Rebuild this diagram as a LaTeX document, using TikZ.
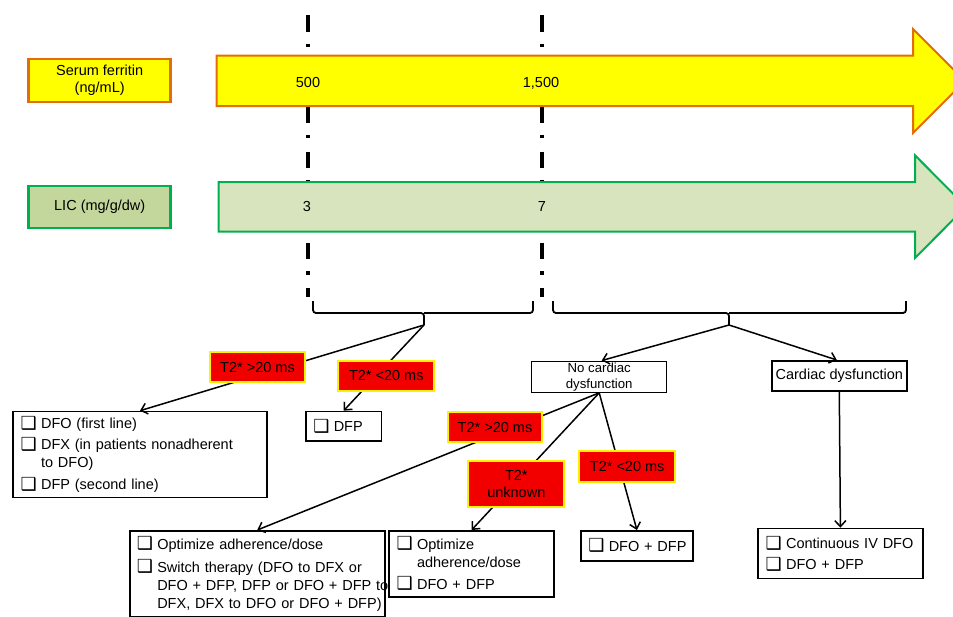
\documentclass[tikz,border=0pt]{standalone}
\usepackage{fontspec}
\setmainfont{Liberation Sans}
\newfontfamily\symfont{DejaVu Sans}
\usetikzlibrary{positioning,calc,arrows.meta}

\definecolor{ferritinfill}{HTML}{FFFF00}
\definecolor{ferritinline}{HTML}{E46C0A}
\definecolor{licfill}{HTML}{D7E4BD}
\definecolor{licbox}{HTML}{C3D69B}
\definecolor{licline}{HTML}{00B050}
\definecolor{tagred}{HTML}{F20000}

\newcommand{\cbx}{\makebox[20.5pt][l]{\raisebox{-0.5pt}{\symfont\fontsize{18}{18}\selectfont ❑}}}
\newcommand{\ind}{\hspace*{20.5pt}}

\tikzset{
  lbl/.style={draw, line width=2.5pt, minimum width=142pt, minimum height=43pt, inner sep=0pt, align=center, font=\fontsize{14.5}{17}\selectfont},
  tag/.style={fill=tagred, draw=yellow, line width=2pt, inner sep=0pt, align=center, font=\fontsize{14.5}{17}\selectfont},
  rx/.style={draw, line width=1.5pt, fill=white, align=left, anchor=north west, inner xsep=7.5pt, inner ysep=0pt, font=\fontsize{14.5}{18}\selectfont},
  link/.style={line width=1.5pt, -{Straight Barb[length=6pt,width=11pt]}},
  cutoff/.style={line width=4pt, dash pattern=on 16.7pt off 12pt on 3.5pt off 13.3pt},
  num/.style={font=\fontsize{14.5}{17}\selectfont}
}

\begin{document}
\begin{tikzpicture}[x=1pt,y=-1pt]
    \useasboundingbox (0,0) rectangle (953,616);
    \clip (0,0) rectangle (953,616);
    % Thresholds
    \draw[cutoff] (308,15) -- (308,297);
    \draw[cutoff] (542,15) -- (542,297);
    % Scales
    \draw[fill=ferritinfill, draw=ferritinline, line width=2pt]
        (216.7,55.7) -- (913,55.7) -- (913,29) -- (965,81) -- (913,133) -- (913,106) -- (216.7,106) -- cycle;
    \draw[fill=licfill, draw=licline, line width=2pt]
        (218.7,182) -- (915,182) -- (915,155.3) -- (966,206.7) -- (915,258) -- (915,231.7) -- (218.7,231.7) -- cycle;
    \node[lbl, fill=ferritinfill, draw=ferritinline] (ferritin) at (99.7,80.5) {Serum ferritin\\(ng/mL)};
    \node[lbl, fill=licbox, draw=licline, minimum height=42pt] (lic) at (99.7,207.2) {LIC (mg/g/dw)};
    \node[num] (f500) at (308,83) {500};
    \node[num] (f1500) at (541,83) {1,500};
    \node[num] (lic3) at (307,206.7) {3};
    \node[num] (lic7) at (542,206.7) {7};
    % Braces
    \coordinate (lowtip) at (424,325);
    \coordinate (hightip) at (729,325);
    \draw[line width=1.8pt, rounded corners=3pt] (313,301) |- (424,313) -- (lowtip);
    \draw[line width=1.8pt, rounded corners=3pt] (533,301) |- (424,313);
    \draw[line width=1.8pt, rounded corners=3pt] (553,301) |- (729,313) -- (hightip);
    \draw[line width=1.8pt, rounded corners=3pt] (906,301) |- (729,313);
    % Decisions
    \node[draw, line width=1pt, fill=white, minimum width=135pt, minimum height=31.3pt, inner sep=0pt, align=center,
          font=\fontsize{13.2}{16}\selectfont] (nocard) at (599.2,376.7) {No cardiac\\dysfunction};
    \node[draw, line width=2pt, fill=white, minimum width=134.7pt, minimum height=30pt, inner sep=0pt,
          font=\fontsize{14.5}{17}\selectfont] (card) at (839.3,376) {Cardiac dysfunction};
    % Treatments
    \node[rx, text width=238.7pt, minimum height=86pt] (dfo) at (12.3,410.7)
        {\mbox{\cbx DFO (first line)}\\[3pt]\mbox{\cbx DFX (in patients nonadherent}\\\mbox{\ind to DFO)}\\[4pt]\mbox{\cbx DFP (second line)}};
    \node[rx, text width=60.7pt, minimum height=29.3pt] (dfp) at (305,410.7) {\mbox{\cbx DFP}};
    \node[rx, text width=241pt, minimum height=86pt, inner xsep=7pt] (opt) at (129,530)
        {\mbox{\cbx Optimize adherence/dose}\\[5pt]\mbox{\cbx Switch therapy (DFO to DFX or}\\\mbox{\ind DFO + DFP, DFP or DFO + DFP to}\\\mbox{\ind DFX, DFX to DFO or DFO + DFP)}};
    \node[rx, text width=150pt, minimum height=66pt] (mid) at (388.3,530)
        {\mbox{\cbx Optimize}\\\mbox{\ind adherence/dose}\\[4pt]\mbox{\cbx DFO + DFP}};
    \node[rx, text width=97.3pt, minimum height=30pt] (dd) at (580,530) {\mbox{\cbx DFO + DFP}};
    \node[rx, text width=149.7pt, minimum height=50pt] (cont) at (757.3,527.7)
        {\mbox{\cbx Continuous IV DFO}\\[3pt]\mbox{\cbx DFO + DFP}};
    % Connectors
    \draw[link] (lowtip) -- ([xshift=127.7pt]dfo.north west);
    \draw[link] (lowtip) -- (dfp.north);
    \draw[link] (hightip) -- ([xshift=2.5pt]nocard.north);
    \draw[link] (hightip) -- ([xshift=-2.5pt]card.north);
    \draw[link] (card.south) -- (cont.north);
    \draw[link] (nocard.south) -- (opt.north);
    \draw[link] (nocard.south) -- (mid.north);
    \draw[link] (nocard.south) -- (dd.north);
    % T2* tags
    \node[tag, minimum width=95pt, minimum height=30pt] (tagA) at (257.5,367.3) {T2* >20 ms};
    \node[tag, minimum width=96pt, minimum height=30pt] (tagB) at (386.3,375.9) {T2* <20 ms};
    \node[tag, minimum width=93.4pt, minimum height=30pt] (tagC) at (495,427.3) {T2* >20 ms};
    \node[tag, minimum width=96pt, minimum height=45.7pt] (tagD) at (516.3,483.8) {T2*\\unknown};
    \node[tag, minimum width=95.7pt, minimum height=30.7pt] (tagE) at (627.2,466.3) {T2* <20 ms};
\end{tikzpicture}
\end{document}
